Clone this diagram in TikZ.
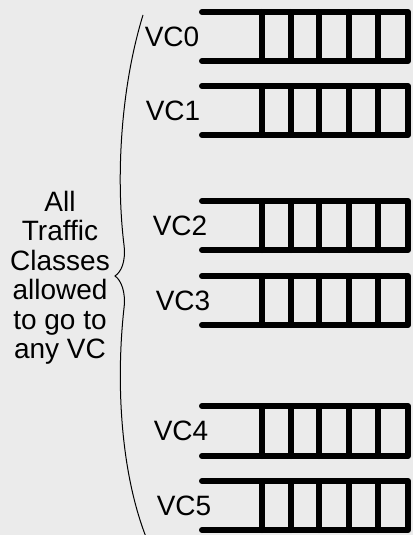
\documentclass[tikz,border=0pt]{standalone}
\usepackage{fontspec}
\setmainfont{Liberation Sans}
\definecolor{bgray}{HTML}{EBEBEB}
\begin{document}
\begin{tikzpicture}[x=1pt,y=-1pt,
  queue/.style={line width=6pt,line cap=round,line join=round},
  vclabel/.style={inner sep=0pt,font=\fontsize{28}{29}\selectfont},
  note/.style={inner sep=0pt,align=center,font=\fontsize{28}{29.5}\selectfont},
  bracket/.style={line width=1pt}]
  % canvas
  \fill[bgray] (0,0) rectangle (413,535);
  \useasboundingbox (0,0) rectangle (413,535);
  % six virtual-channel buffers, each with five slots
  \foreach \i/\t/\b/\lx in {0/12/61/172, 1/86/135/173, 2/201/250/180,
                            3/276/325/183, 4/406/456/181, 5/481/530/184} {
    \draw[queue] (202,\t) -- (408,\t) -- (408,\b) -- (202,\b);
    \foreach \x in {262,291,319,349,378}
      \draw[queue] (\x,\t) -- (\x,\b);
    \node[vclabel] (vc\i) at (\lx,{(\t+\b)/2}) {VC\i};
  }
  % brace grouping all channels
  \coordinate (btop) at (143,15);
  \coordinate (btip) at (115,276);
  \coordinate (bbot) at (146,537);
  \draw[bracket] (btop) .. controls (120,90) and (116,180) .. (124,245)
                 .. controls (126,262) and (121,272) .. (btip)
                 .. controls (121,280) and (126,292) .. (124,308)
                 .. controls (116,380) and (120,470) .. (bbot);
  \node[note] (tc) at (60,278) {All\\Traffic\\Classes\\allowed\\to go to\\any VC};
\end{tikzpicture}
\end{document}
